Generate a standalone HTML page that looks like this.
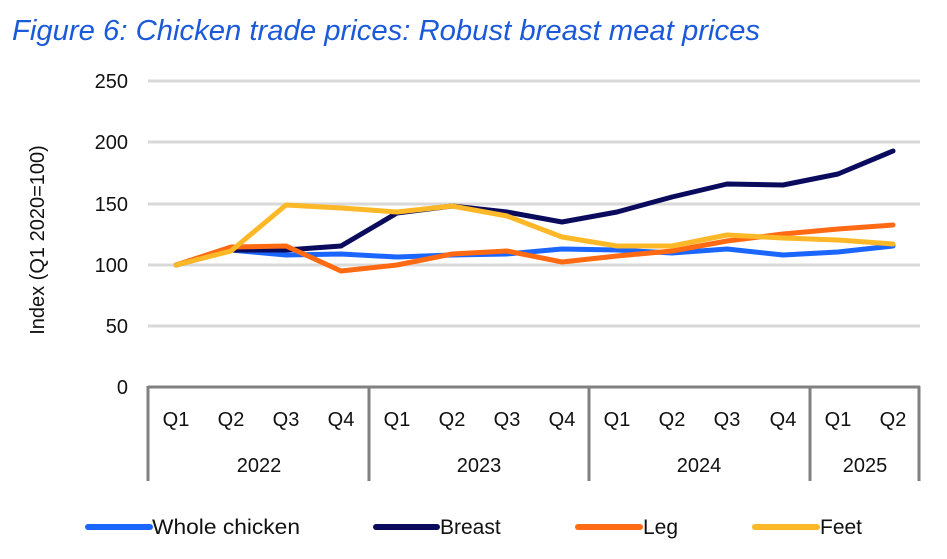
<!DOCTYPE html><html><head><style>body{margin:0;background:#fff}svg{display:block}text{font-family:"Liberation Sans",sans-serif;fill:#111}</style></head><body>
<svg width="947" height="559" viewBox="0 0 947 559">
<text x="12" y="40" style="font-style:italic;font-size:29px;fill:#1a5ad8" textLength="748" lengthAdjust="spacingAndGlyphs">Figure 6: Chicken trade prices: Robust breast meat prices</text>
<g stroke="#d9d9d9" stroke-width="3">
<line x1="148" x2="920" y1="81" y2="81"/><line x1="148" x2="920" y1="142" y2="142"/><line x1="148" x2="920" y1="204" y2="204"/><line x1="148" x2="920" y1="265" y2="265"/><line x1="148" x2="920" y1="326" y2="326"/></g>
<g font-size="20" text-anchor="end"><text x="128" y="88">250</text><text x="128" y="149">200</text><text x="128" y="211">150</text><text x="128" y="272">100</text><text x="128" y="333">50</text><text x="128" y="394">0</text></g>
<text transform="translate(44,240) rotate(-90)" font-size="20" text-anchor="middle">Index (Q1 2020=100)</text>
<g stroke="#808080" stroke-width="3" fill="none"><line x1="148" x2="920" y1="387" y2="387"/>
<line x1="148" x2="148" y1="386" y2="481"/><line x1="369" x2="369" y1="386" y2="481"/><line x1="589" x2="589" y1="386" y2="481"/><line x1="810" x2="810" y1="386" y2="481"/><line x1="919" x2="919" y1="386" y2="481"/></g>
<g font-size="20" text-anchor="middle">
<text x="176" y="426">Q1</text><text x="231" y="426">Q2</text><text x="286" y="426">Q3</text><text x="341" y="426">Q4</text>
<text x="397" y="426">Q1</text><text x="452" y="426">Q2</text><text x="507" y="426">Q3</text><text x="562" y="426">Q4</text>
<text x="617" y="426">Q1</text><text x="672" y="426">Q2</text><text x="727" y="426">Q3</text><text x="783" y="426">Q4</text>
<text x="838" y="426">Q1</text><text x="893" y="426">Q2</text>
<text x="259" y="472">2022</text><text x="479" y="472">2023</text><text x="699" y="472">2024</text><text x="865" y="472">2025</text></g>
<g fill="none" stroke-width="5" stroke-linejoin="round" stroke-linecap="round">
<polyline stroke="#1a66ff" points="176,265 231,250 286,255 341,254 397,257 452,255 507,254 562,249 617,250 672,253 727,249 783,255 838,252 893,246"/>
<polyline stroke="#0b0b5e" points="176,265 231,250 286,250 341,246 397,213 452,206 507,212 562,222 617,212 672,197 727,184 783,185 838,174 893,151"/>
<polyline stroke="#ff6a13" points="176,265 231,247 286,246 341,271 397,265 452,254 507,251 562,262 617,256 672,251 727,241 783,234 838,229 893,225"/>
<polyline stroke="#fdb827" points="176,265 231,251 286,205 341,208 397,212 452,206 507,216 562,237 617,246 672,246 727,235 783,238 838,240 893,244"/>
</g>
<g stroke-width="6" stroke-linecap="round">
<line x1="88" x2="150" y1="527" y2="527" stroke="#1a66ff"/><line x1="376" x2="437" y1="527" y2="527" stroke="#0b0b5e"/><line x1="578" x2="640" y1="527" y2="527" stroke="#ff6a13"/><line x1="755" x2="817" y1="527" y2="527" stroke="#fdb827"/></g>
<g font-size="21"><text x="152" y="534" textLength="148" lengthAdjust="spacingAndGlyphs">Whole chicken</text><text x="440" y="534">Breast</text><text x="643" y="534">Leg</text><text x="820" y="534">Feet</text></g>
</svg></body></html>
